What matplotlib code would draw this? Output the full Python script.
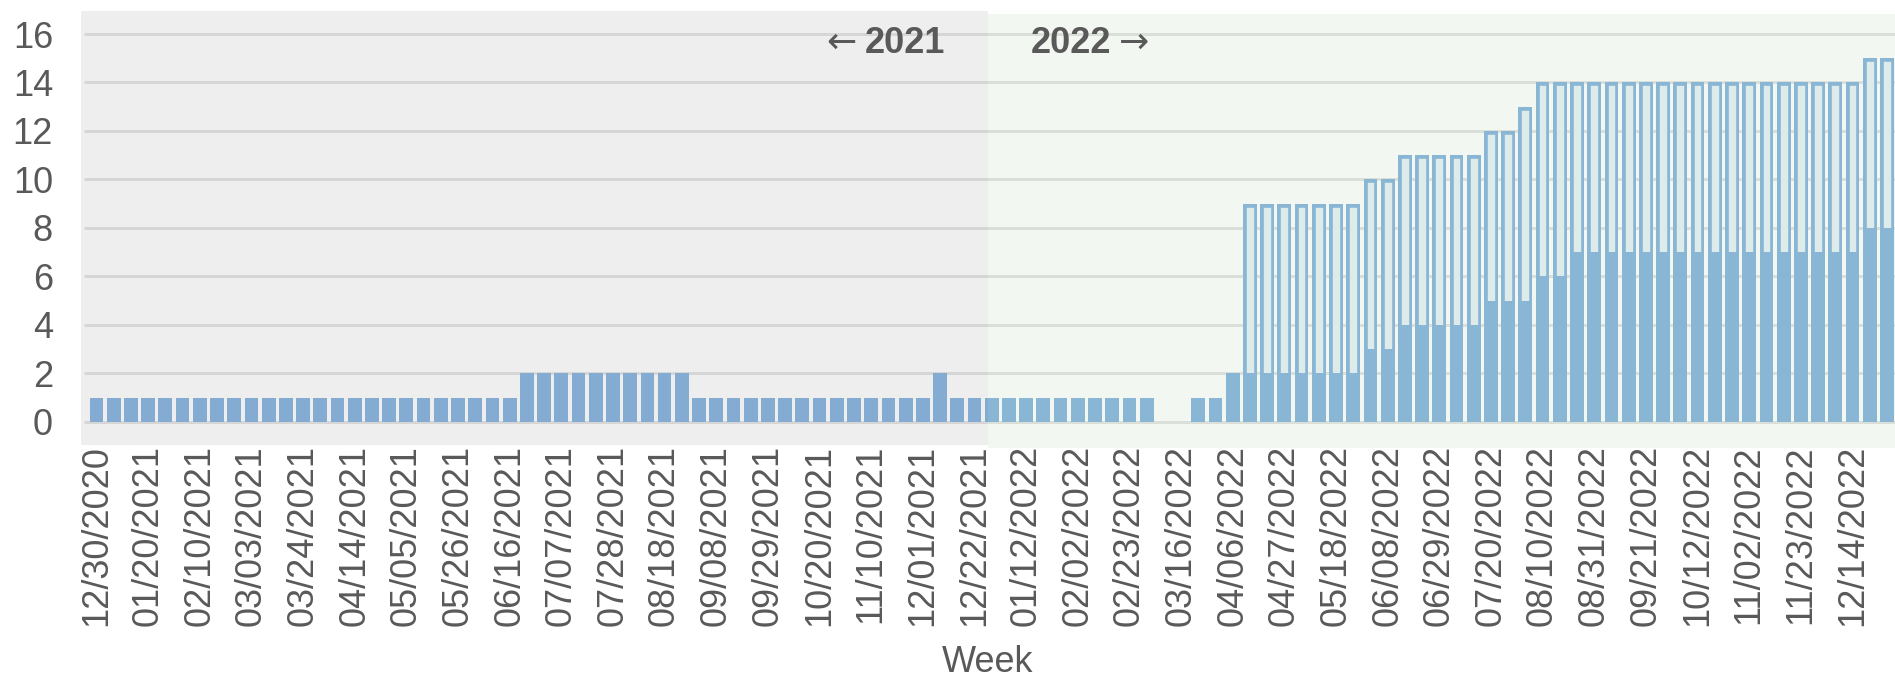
import numpy as np
import matplotlib
matplotlib.use("Agg")
import matplotlib.pyplot as plt
from matplotlib.patches import Rectangle

# Weekly categories (week starting dates)
weeks = [
    "12/30/2020", "01/06/2021", "01/13/2021", "01/20/2021", "01/27/2021", "02/03/2021",
    "02/10/2021", "02/17/2021", "02/24/2021", "03/03/2021", "03/10/2021", "03/17/2021",
    "03/24/2021", "03/31/2021", "04/07/2021", "04/14/2021", "04/21/2021", "04/28/2021",
    "05/05/2021", "05/12/2021", "05/19/2021", "05/26/2021", "06/02/2021", "06/09/2021",
    "06/16/2021", "06/23/2021", "06/30/2021", "07/07/2021", "07/14/2021", "07/21/2021",
    "07/28/2021", "08/04/2021", "08/11/2021", "08/18/2021", "08/25/2021", "09/01/2021",
    "09/08/2021", "09/15/2021", "09/22/2021", "09/29/2021", "10/06/2021", "10/13/2021",
    "10/20/2021", "10/27/2021", "11/03/2021", "11/10/2021", "11/17/2021", "11/24/2021",
    "12/01/2021", "12/08/2021", "12/15/2021", "12/22/2021", "12/29/2021", "01/05/2022",
    "01/12/2022", "01/19/2022", "01/26/2022", "02/02/2022", "02/09/2022", "02/16/2022",
    "02/23/2022", "03/02/2022", "03/09/2022", "03/16/2022", "03/23/2022", "03/30/2022",
    "04/06/2022", "04/13/2022", "04/20/2022", "04/27/2022", "05/04/2022", "05/11/2022",
    "05/18/2022", "05/25/2022", "06/01/2022", "06/08/2022", "06/15/2022", "06/22/2022",
    "06/29/2022", "07/06/2022", "07/13/2022", "07/20/2022", "07/27/2022", "08/03/2022",
    "08/10/2022", "08/17/2022", "08/24/2022", "08/31/2022", "09/07/2022", "09/14/2022",
    "09/21/2022", "09/28/2022", "10/05/2022", "10/12/2022", "10/19/2022", "10/26/2022",
    "11/02/2022", "11/09/2022", "11/16/2022", "11/23/2022", "11/30/2022", "12/07/2022",
    "12/14/2022", "12/21/2022", "12/28/2022",
]

# Solid bars (per week)
solid_counts = [
    1, 1, 1, 1, 1, 1, 1, 1, 1, 1, 1, 1, 1, 1, 1, 1, 1, 1, 1, 1, 1, 1, 1, 1, 1,
    2, 2, 2, 2, 2, 2, 2, 2, 2, 2,
    1, 1, 1, 1, 1, 1, 1, 1, 1, 1, 1, 1, 1, 1,
    2,
    1, 1, 1, 1, 1, 1, 1, 1, 1, 1, 1, 1,
    0, 0,
    1, 1,
    2, 2, 2, 2, 2, 2, 2, 2,
    3, 3,
    4, 4, 4, 4, 4,
    5, 5, 5,
    6, 6,
    7, 7, 7, 7, 7, 7, 7, 7, 7, 7, 7, 7, 7, 7, 7, 7, 7,
    8, 8,
]

# Outlined bars: total per week (solid part included)
total_counts = [
    1, 1, 1, 1, 1, 1, 1, 1, 1, 1, 1, 1, 1, 1, 1, 1, 1, 1, 1, 1, 1, 1, 1, 1, 1,
    2, 2, 2, 2, 2, 2, 2, 2, 2, 2,
    1, 1, 1, 1, 1, 1, 1, 1, 1, 1, 1, 1, 1, 1,
    2,
    1, 1, 1, 1, 1, 1, 1, 1, 1, 1, 1, 1,
    0, 0,
    1, 1,
    2,
    9, 9, 9, 9, 9, 9, 9,
    10, 10,
    11, 11, 11, 11, 11,
    12, 12,
    13,
    14, 14, 14, 14, 14, 14, 14, 14, 14, 14, 14, 14, 14, 14, 14, 14, 14, 14, 14,
    15, 15,
]

y_ticks = [0, 2, 4, 6, 8, 10, 12, 14, 16]
tick_every = 3

DPI = 100
W, H = 1895, 677
TEXT = "#595959"
BAR = "#8ab6e0"
LIGHT = "#e6f2f7"
GRID = "#e4e4e4"
FONT = ["Liberation Sans", "DejaVu Sans"]
FS = 26

plt.rcParams["font.family"] = FONT

fig = plt.figure(figsize=(W / DPI, H / DPI), dpi=DPI)
ax = fig.add_axes([81 / W, (H - 445) / H, (W - 81) / W, (445 - 11) / H])
ax.set_facecolor("white")

x = np.arange(len(weeks))
x_left, x_right = -0.90, 104.47
y_bottom, y_top = -0.96, 16.95
ax.set_xlim(x_left, x_right)
ax.set_ylim(y_bottom, y_top)

px = 72 / DPI  # points per pixel

# horizontal gridlines
ax.hlines(y_ticks, xmin=-0.726, xmax=x_right, colors=GRID, linewidth=3 * px, zorder=0.5)

# outlined bars (edge kept inside the bar by clipping to the bar itself)
outline = ax.bar(x, total_counts, width=0.8, facecolor=LIGHT, edgecolor=BAR,
                 linewidth=2 * 3.3 * px, zorder=1)
for p in outline:
    p.set_clip_path(p)

# solid bars
ax.bar(x, solid_counts, width=0.8, color=BAR, linewidth=0, zorder=2)

# year shading
split = 51.78
ax.add_patch(Rectangle((x_left, y_bottom), split - x_left, y_top - y_bottom,
                       facecolor="#4b4b4b", alpha=0.09, linewidth=0, zorder=3))
ax.add_patch(Rectangle((split, -1.085), x_right - split + 1, 16.83 + 1.085,
                       facecolor="#91b97d", alpha=0.1, linewidth=0, zorder=3,
                       clip_on=False))

# year markers: bold year plus a plain arrow
label_y = 15.21
ax.text(split - 2.47, label_y, "2021", ha="right", va="baseline", fontsize=FS,
        fontweight="bold", color=TEXT, zorder=4)
ax.text(44.15, label_y, "\u2190", ha="right", va="baseline", fontsize=FS,
        family="DejaVu Sans", color=TEXT, zorder=4)
ax.text(split + 2.47, label_y, "2022", ha="left", va="baseline", fontsize=FS,
        fontweight="bold", color=TEXT, zorder=4)
ax.text(59.4, label_y, "\u2192", ha="left", va="baseline", fontsize=FS,
        family="DejaVu Sans", color=TEXT, zorder=4)

# axes styling
for s in ax.spines.values():
    s.set_visible(False)
ax.set_yticks(y_ticks)
ax.set_yticklabels([str(v) for v in y_ticks])
ax.set_xticks(x[::tick_every])
ax.set_xticklabels(weeks[::tick_every], rotation=90)
ax.tick_params(axis="y", length=0, pad=28 * px, labelsize=FS, labelcolor=TEXT)
ax.tick_params(axis="x", length=0, pad=0, labelsize=FS, labelcolor=TEXT)

fig.text(0.5 * (81 + W) / W, 5 / H, "Week", ha="center", va="baseline",
         fontsize=FS, color=TEXT)

fig.savefig("out.png", dpi=DPI)
